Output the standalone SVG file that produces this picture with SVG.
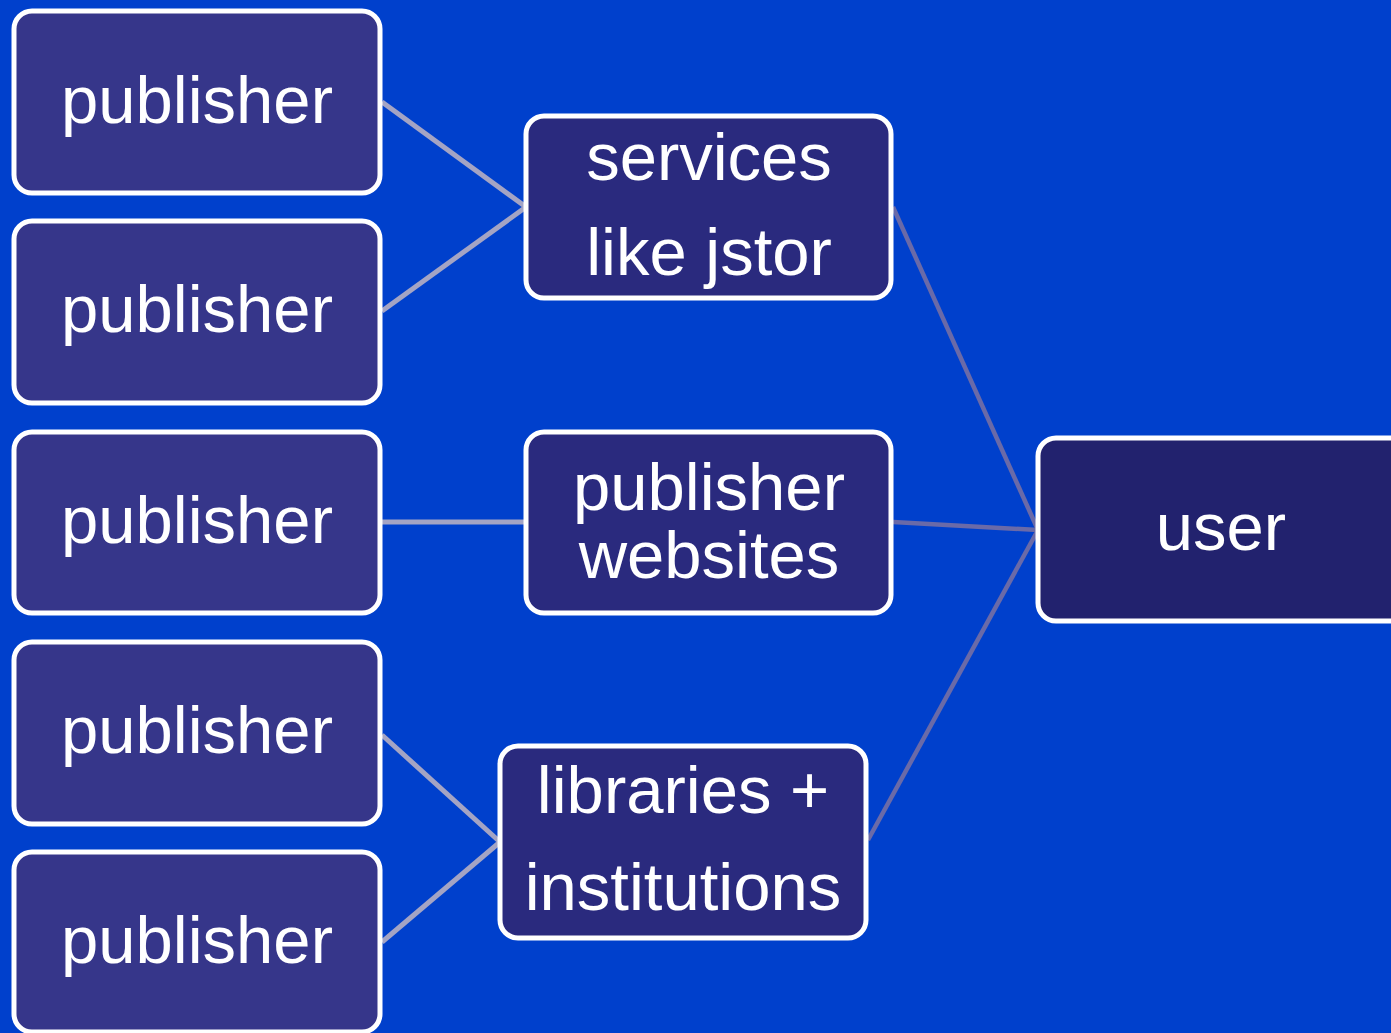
<svg xmlns="http://www.w3.org/2000/svg" width="1391" height="1033" viewBox="0 0 1391 1033">
  <style>
    .box { stroke: #ffffff; stroke-width: 5; }
    .pub { fill: #36368a; }
    .mid { fill: #2a2a7e; }
    .usr { fill: #22226e; }
    .lbl { fill: #ffffff; font-family: "Liberation Sans", Arial, sans-serif; font-size: 67px; text-anchor: middle; }
    .in { stroke: #a4a4c4; stroke-width: 5; fill: none; }
    .out { stroke: #6a6aa8; stroke-width: 4.5; fill: none; }
  </style>
  <rect width="1391" height="1033" fill="#0040cc"/>

  <g id="connectors">
    <line class="in" x1="382" y1="102" x2="526" y2="207"/>
    <line class="in" x1="382" y1="311" x2="526" y2="207"/>
    <line class="in" x1="382" y1="522" x2="526" y2="522"/>
    <line class="in" x1="382" y1="735" x2="500" y2="842"/>
    <line class="in" x1="382" y1="942" x2="500" y2="842"/>
    <line class="out" x1="893" y1="207" x2="1038" y2="530"/>
    <line class="out" x1="893" y1="522" x2="1038" y2="530"/>
    <line class="out" x1="868" y1="840" x2="1038" y2="530"/>
  </g>

  <g id="publisher1">
    <rect class="box pub" x="14" y="11" width="366" height="182" rx="18"/>
    <text class="lbl" x="197" y="123">publisher</text>
  </g>
  <g id="publisher2">
    <rect class="box pub" x="14" y="221" width="366" height="182" rx="18"/>
    <text class="lbl" x="197" y="332">publisher</text>
  </g>
  <g id="publisher3">
    <rect class="box pub" x="14" y="432" width="366" height="181" rx="18"/>
    <text class="lbl" x="197" y="543">publisher</text>
  </g>
  <g id="publisher4">
    <rect class="box pub" x="14" y="642" width="366" height="182" rx="18"/>
    <text class="lbl" x="197" y="753">publisher</text>
  </g>
  <g id="publisher5">
    <rect class="box pub" x="14" y="852" width="366" height="180" rx="18"/>
    <text class="lbl" x="197" y="963">publisher</text>
  </g>

  <g id="services">
    <rect class="box mid" x="526" y="116" width="365" height="182" rx="18"/>
    <text class="lbl" x="709" y="180">services</text>
    <text class="lbl" x="709" y="275">like jstor</text>
  </g>
  <g id="websites">
    <rect class="box mid" x="526" y="432" width="365" height="181" rx="18"/>
    <text class="lbl" x="709" y="510">publisher</text>
    <text class="lbl" x="709" y="578">websites</text>
  </g>
  <g id="libraries">
    <rect class="box mid" x="500" y="746" width="366" height="192" rx="18"/>
    <text class="lbl" x="683" y="813">libraries +</text>
    <text class="lbl" x="683" y="910">institutions</text>
  </g>
  <g id="user">
    <rect class="box usr" x="1038" y="438" width="372" height="183" rx="18"/>
    <text class="lbl" x="1221" y="550">user</text>
  </g>
</svg>
